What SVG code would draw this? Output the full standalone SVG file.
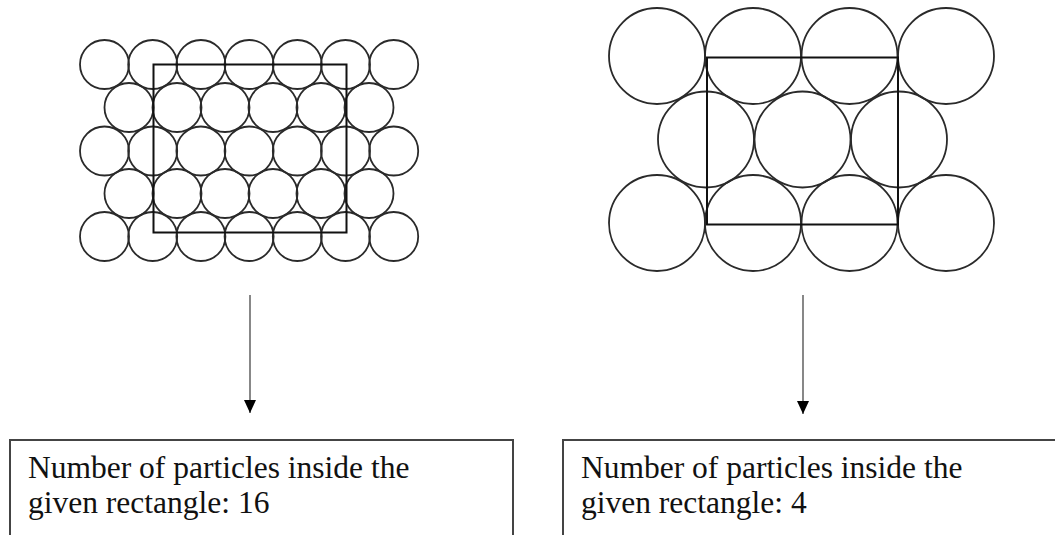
<svg xmlns="http://www.w3.org/2000/svg" width="1055" height="535" viewBox="0 0 1055 535">
<style>
.p{fill:none;stroke:#2a2a2a;stroke-width:1.8}
.frame{fill:none;stroke:#111;stroke-width:2}
.box{fill:#fff;stroke:#444;stroke-width:2}
.conn{stroke:#555;stroke-width:1.4;fill:none}
.t{font-family:"Liberation Serif","Times New Roman",serif;font-size:31.5px;fill:#111}
</style>
<defs>
<marker id="ah" viewBox="0 0 13 12" refX="13" refY="6" markerWidth="13" markerHeight="12" markerUnits="userSpaceOnUse" orient="auto">
<path d="M0,0 L13,6 L0,12 Z" fill="#000"/>
</marker>
<circle id="s" r="24.5" class="p"/>
<circle id="b" r="48" class="p"/>
</defs>
<rect width="1055" height="535" fill="#fff"/>
<g id="left-lattice">
<use href="#s" x="104.5" y="64.5"/><use href="#s" x="152.7" y="64.5"/><use href="#s" x="200.9" y="64.5"/><use href="#s" x="249.1" y="64.5"/><use href="#s" x="297.3" y="64.5"/><use href="#s" x="345.5" y="64.5"/><use href="#s" x="393.7" y="64.5"/>
<use href="#s" x="129" y="107.5"/><use href="#s" x="177" y="107.5"/><use href="#s" x="225" y="107.5"/><use href="#s" x="273" y="107.5"/><use href="#s" x="321" y="107.5"/><use href="#s" x="369" y="107.5"/>
<use href="#s" x="104.5" y="151"/><use href="#s" x="152.7" y="151"/><use href="#s" x="200.9" y="151"/><use href="#s" x="249.1" y="151"/><use href="#s" x="297.3" y="151"/><use href="#s" x="345.5" y="151"/><use href="#s" x="393.7" y="151"/>
<use href="#s" x="129" y="193.5"/><use href="#s" x="177" y="193.5"/><use href="#s" x="225" y="193.5"/><use href="#s" x="273" y="193.5"/><use href="#s" x="321" y="193.5"/><use href="#s" x="369" y="193.5"/>
<use href="#s" x="104.5" y="236.5"/><use href="#s" x="152.7" y="236.5"/><use href="#s" x="200.9" y="236.5"/><use href="#s" x="249.1" y="236.5"/><use href="#s" x="297.3" y="236.5"/><use href="#s" x="345.5" y="236.5"/><use href="#s" x="393.7" y="236.5"/>
<rect x="153.5" y="64.5" width="193" height="168" class="frame"/>
</g>
<g id="right-lattice">
<use href="#b" x="657" y="56"/><use href="#b" x="753" y="56"/><use href="#b" x="849.5" y="56"/><use href="#b" x="946" y="56"/>
<use href="#b" x="706" y="139.5"/><use href="#b" x="802.5" y="139.5"/><use href="#b" x="899" y="139.5"/>
<use href="#b" x="657" y="223"/><use href="#b" x="753" y="223"/><use href="#b" x="849.5" y="223"/><use href="#b" x="946" y="223"/>
<rect x="707" y="57.5" width="191" height="167" class="frame"/>
</g>
<g id="connectors">
<line x1="250" y1="295" x2="250" y2="413" class="conn" marker-end="url(#ah)"/>
<line x1="803" y1="295" x2="803" y2="414" class="conn" marker-end="url(#ah)"/>
</g>
<g id="left-box">
<rect x="10" y="440" width="503" height="110" class="box"/>
<text class="t" x="28" y="478">Number of particles inside the</text>
<text class="t" x="28" y="513">given rectangle:  16</text>
</g>
<g id="right-box">
<rect x="563" y="440" width="510" height="110" class="box"/>
<text class="t" x="581" y="478">Number of particles inside the</text>
<text class="t" x="581" y="513">given rectangle: 4</text>
</g>
</svg>
